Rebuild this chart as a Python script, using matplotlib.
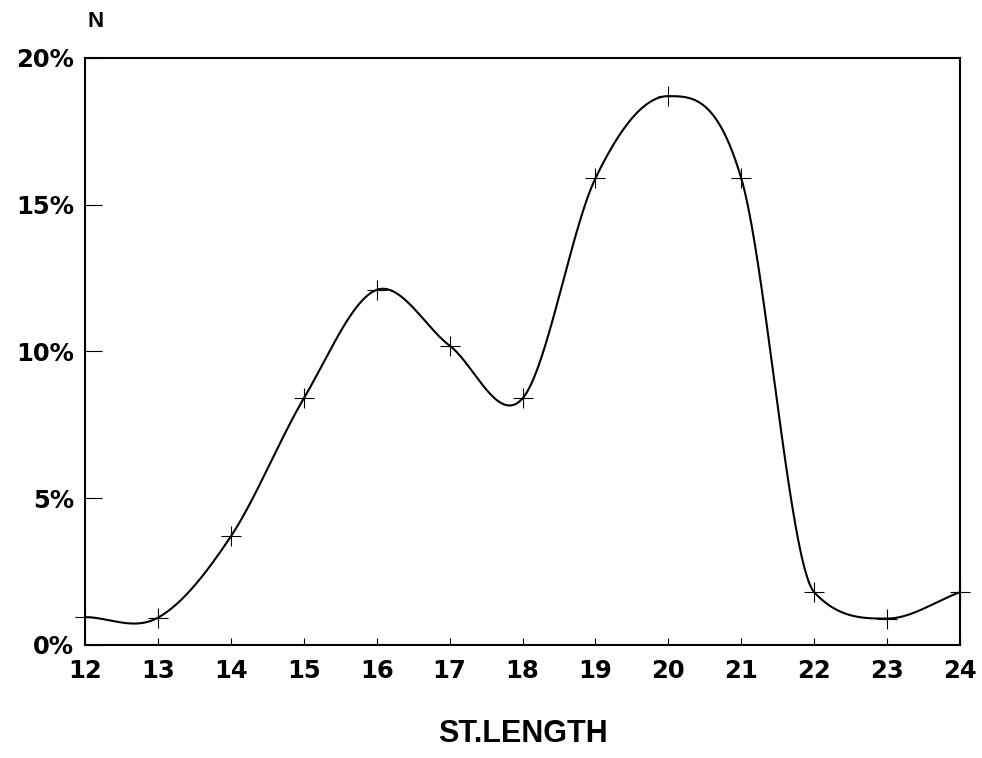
import numpy as np
import matplotlib
matplotlib.use("Agg")
import matplotlib.pyplot as plt

lengths = [12, 13, 14, 15, 16, 17, 18, 19, 20, 21, 22, 23, 24]
percent = [0.95, 0.93, 3.7, 8.4, 12.1, 10.2, 8.4, 15.9, 18.7, 15.9, 1.8, 0.9, 1.8]
x_ticks = list(range(12, 25))
y_ticks = [0, 5, 10, 15, 20]
y_labels = ["0%", "5%", "10%", "15%", "20%"]


def smooth_curve(x, y, xs):
    """Catmull-Rom Hermite curve with Fritsch-Carlson slope limiting."""
    x = np.asarray(x, float); y = np.asarray(y, float)
    h = np.diff(x)
    delta = np.diff(y) / h
    n = len(x)
    d = np.zeros(n)
    for k in range(1, n - 1):
        d[k] = (y[k + 1] - y[k - 1]) / (x[k + 1] - x[k - 1])
        if delta[k - 1] * delta[k] > 0:
            lim = 3 * min(abs(delta[k - 1]), abs(delta[k]))
            d[k] = np.sign(d[k]) * min(abs(d[k]), lim)
    d[0] = delta[0]
    d[-1] = delta[-1]
    out = np.empty_like(xs)
    for j, xv in enumerate(xs):
        i = min(max(np.searchsorted(x, xv) - 1, 0), n - 2)
        t = (xv - x[i]) / h[i]
        h00 = 2 * t**3 - 3 * t**2 + 1
        h10 = t**3 - 2 * t**2 + t
        h01 = -2 * t**3 + 3 * t**2
        h11 = t**3 - t**2
        out[j] = h00 * y[i] + h10 * h[i] * d[i] + h01 * y[i + 1] + h11 * h[i] * d[i + 1]
    return out


plt.rcParams['font.family'] = ['Liberation Sans', 'DejaVu Sans']
fig = plt.figure(figsize=(9.82, 7.58), dpi=100)
ax = fig.add_axes([0.0866, 0.1491, 0.8910, 0.7744])

xs = np.linspace(12, 24, 800)
ax.plot(xs, smooth_curve(lengths, percent, xs), color="black", lw=1.5)
ax.plot(lengths, percent, linestyle="none", marker="+", markersize=15,
        markeredgewidth=0.8, color="black", clip_on=False)

ax.set_xlim(12, 24)
ax.set_ylim(0, 20)
ax.set_xticks(x_ticks)
ax.set_yticks(y_ticks)
ax.set_yticklabels(y_labels)
ax.tick_params(axis="x", direction="in", length=5, width=0.8, pad=10)
ax.tick_params(axis="y", direction="in", length=12, width=0.8, pad=8)
for lab in ax.get_xticklabels() + ax.get_yticklabels():
    lab.set_fontweight("bold")
    lab.set_fontfamily("DejaVu Sans")
    lab.set_fontsize(17.5)
for sp in ax.spines.values():
    sp.set_linewidth(1.5)

ax.set_xlabel("ST.LENGTH", fontsize=22, fontweight="bold", labelpad=26)
fig.text(0.097, 0.971, "N", fontsize=16, fontweight="bold", ha="center", va="center")

fig.savefig("out.png", dpi=100)
